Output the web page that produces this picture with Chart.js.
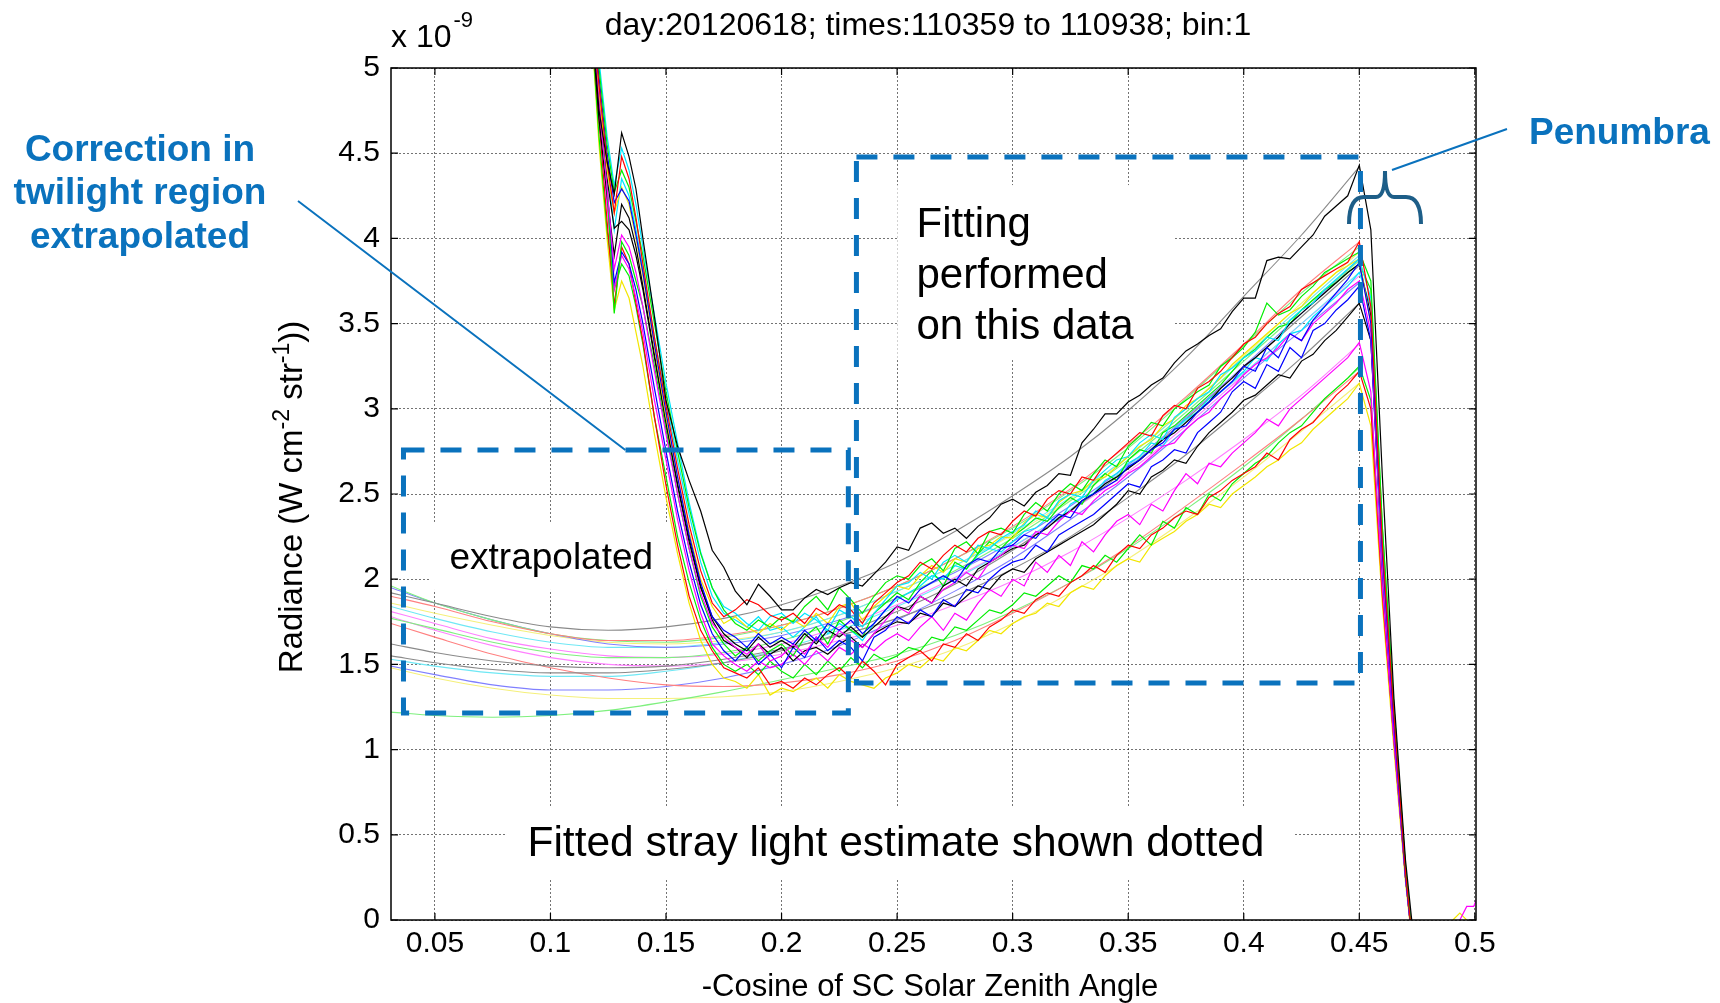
<!DOCTYPE html>
<html lang="en">
<head>
<meta charset="UTF-8">
<title>stray light fit - day 20120618</title>
<script src="https://cdn.jsdelivr.net/npm/chart.js"></script>
<style>
  body { margin: 0; background: #fff; }
  #grafico { display: block; }
</style>
</head>
<body>
<canvas id="grafico" width="1720" height="1003"></canvas>
<script>
// ---- measured radiance (units of 1e-9), sampled at xMedido ----
const xMedido = [0.116, 0.121, 0.1245, 0.1276, 0.1308, 0.134, 0.137,
  0.14, 0.145, 0.15, 0.155, 0.16, 0.165, 0.17, 0.175,
  0.18, 0.185, 0.19, 0.195, 0.2, 0.205, 0.21, 0.215, 0.22, 0.225, 0.23, 0.235, 0.24, 0.245, 0.25,
  0.255, 0.26, 0.265, 0.27, 0.275, 0.28, 0.285, 0.29, 0.295, 0.3,
  0.305, 0.31, 0.315, 0.32, 0.325, 0.33, 0.335, 0.34, 0.345, 0.35,
  0.355, 0.36, 0.365, 0.37, 0.375, 0.38, 0.385, 0.39, 0.395, 0.4,
  0.405, 0.41, 0.415, 0.42, 0.425, 0.43, 0.435, 0.44, 0.445, 0.45,
  0.455, 0.46, 0.465, 0.47, 0.475];

const black1 = [5.6, 4.75, 4.45, 4.26, 4.62, 4.48, 4.29,
  4.0, 3.54, 3.05, 2.78, 2.58, 2.4, 2.17, 2.07,
  1.93, 1.85, 1.97, 1.9, 1.82, 1.82, 1.89, 1.94, 1.91, 1.95, 1.98, 1.96, 2.03, 2.1, 2.19,
  2.17, 2.3, 2.33, 2.27, 2.3, 2.24, 2.31, 2.36, 2.44, 2.47,
  2.43, 2.51, 2.55, 2.62, 2.61, 2.8, 2.88, 2.97, 2.97, 3.04,
  3.08, 3.14, 3.18, 3.27, 3.34, 3.38, 3.43, 3.47, 3.57, 3.65,
  3.65, 3.87, 3.89, 3.88, 3.95, 4.02, 4.13, 4.19, 4.25, 4.43,
  4.05, 2.6, 1.3, 0.35, -0.3];
const black2 = [5.6, 4.8, 4.35, 4.06, 4.1, 4.05, 3.9,
  3.7, 3.3, 2.92, 2.55, 2.22, 1.95, 1.78, 1.68,
  1.62, 1.58, 1.66, 1.6, 1.64, 1.6, 1.68, 1.62, 1.7, 1.66, 1.72, 1.66, 1.72, 1.78, 1.84,
  1.82, 1.9, 1.86, 1.96, 2.0, 1.96, 2.06, 2.1, 2.14, 2.18,
  2.2, 2.26, 2.3, 2.36, 2.4, 2.46, 2.5, 2.56, 2.6, 2.65,
  2.7, 2.76, 2.82, 2.86, 2.92, 2.98, 3.04, 3.12, 3.18, 3.25,
  3.3, 3.36, 3.42, 3.5, 3.56, 3.62, 3.68, 3.74, 3.8, 3.85,
  3.55, 2.2, 1.2, 0.3, -0.4];
const black3 = [5.6, 4.7, 4.25, 3.9, 4.2, 4.12, 3.95,
  3.72, 3.32, 2.92, 2.56, 2.24, 1.96, 1.76, 1.64,
  1.6, 1.54, 1.62, 1.56, 1.6, 1.52, 1.58, 1.6, 1.56, 1.62, 1.66, 1.6, 1.68, 1.72, 1.75,
  1.74, 1.8, 1.78, 1.86, 1.84, 1.9, 1.96, 1.94, 2.02, 2.06,
  2.04, 2.12, 2.16, 2.2, 2.24, 2.28, 2.32, 2.38, 2.44, 2.52,
  2.5, 2.6, 2.64, 2.7, 2.68, 2.78, 2.86, 2.92, 2.98, 3.05,
  3.08, 3.14, 3.2, 3.18, 3.28, 3.32, 3.4, 3.46, 3.54, 3.62,
  3.4, 2.1, 1.15, 0.28, -0.4];
const red1 = [5.6, 4.9, 4.45, 4.15, 4.48, 4.35, 4.12,
  3.85, 3.42, 3.02, 2.65, 2.32, 2.05, 1.86, 1.78,
  1.82, 1.88, 1.85, 1.79, 1.76, 1.8, 1.74, 1.83, 1.79, 1.85, 1.82, 1.74, 1.86, 1.92, 1.98,
  2.02, 2.1, 2.06, 2.14, 2.2, 2.16, 2.24, 2.28, 2.26, 2.34,
  2.4, 2.37, 2.47, 2.52, 2.5, 2.6, 2.58, 2.68, 2.74, 2.8,
  2.86, 2.84, 2.96, 3.02, 3.0, 3.12, 3.16, 3.22, 3.3, 3.38,
  3.42, 3.5, 3.56, 3.6, 3.7, 3.74, 3.78, 3.82, 3.86, 3.98,
  3.6, 2.2, 1.2, 0.28, -0.4];
const red2 = [5.6, 4.7, 4.1, 3.61, 3.95, 3.85, 3.62,
  3.4, 2.95, 2.55, 2.2, 1.9, 1.7, 1.58, 1.48,
  1.45, 1.42, 1.48, 1.38, 1.4, 1.36, 1.42, 1.38, 1.44, 1.48, 1.42, 1.52, 1.46, 1.38, 1.5,
  1.54, 1.58, 1.52, 1.62, 1.6, 1.68, 1.64, 1.72, 1.76, 1.82,
  1.8, 1.88, 1.92, 1.9, 1.98, 2.02, 2.08, 2.04, 2.14, 2.2,
  2.18, 2.26, 2.3, 2.36, 2.4, 2.38, 2.48, 2.52, 2.58, 2.62,
  2.66, 2.74, 2.7, 2.82, 2.88, 2.92, 3.0, 3.08, 3.14, 3.22,
  3.0, 1.9, 1.05, 0.25, -0.4];
const green1 = [5.6, 5.0, 4.55, 4.27, 4.4, 4.3, 4.1,
  3.9, 3.5, 3.1, 2.75, 2.42, 2.15, 1.95, 1.82,
  1.74, 1.7, 1.76, 1.72, 1.78, 1.75, 1.84, 1.9, 1.82, 1.95, 1.88, 1.8, 1.9, 1.98, 2.02,
  2.0, 2.08, 2.12, 2.05, 2.18, 2.22, 2.15, 2.28, 2.3, 2.27,
  2.38, 2.45, 2.4, 2.5, 2.56, 2.52, 2.62, 2.7, 2.66, 2.78,
  2.84, 2.92, 2.9, 3.0, 3.05, 3.1, 3.14, 3.25, 3.3, 3.36,
  3.45, 3.62, 3.55, 3.58, 3.66, 3.72, 3.8, 3.84, 3.88, 3.92,
  3.75, 2.3, 1.25, 0.3, -0.4];
const green2 = [5.6, 4.8, 4.3, 3.56, 3.98, 3.9, 3.75,
  3.6, 3.25, 2.88, 2.5, 2.18, 1.9, 1.72, 1.62,
  1.55, 1.6, 1.52, 1.58, 1.62, 1.55, 1.66, 1.72, 1.62, 1.76, 1.7, 1.66, 1.8, 1.86, 1.92,
  1.88, 1.98, 2.05, 1.96, 2.1, 2.06, 2.15, 2.22, 2.18, 2.25,
  2.3, 2.36, 2.34, 2.42, 2.48, 2.44, 2.55, 2.62, 2.58, 2.7,
  2.76, 2.74, 2.86, 2.9, 2.96, 3.02, 3.08, 3.14, 3.22, 3.3,
  3.35, 3.42, 3.48, 3.5, 3.58, 3.64, 3.7, 3.74, 3.8, 3.85,
  3.7, 2.3, 1.25, 0.32, -0.4];
const green3 = [5.6, 4.6, 4.05, 3.7, 3.85, 3.78, 3.6,
  3.38, 2.95, 2.6, 2.25, 1.98, 1.76, 1.6, 1.5,
  1.46, 1.5, 1.44, 1.52, 1.46, 1.42, 1.5, 1.44, 1.52, 1.46, 1.54, 1.48, 1.56, 1.52, 1.55,
  1.6, 1.58, 1.66, 1.64, 1.72, 1.7, 1.76, 1.82, 1.8, 1.85,
  1.92, 1.9, 1.96, 2.02, 1.98, 2.08, 2.06, 2.14, 2.1, 2.18,
  2.26, 2.2, 2.34, 2.3, 2.42, 2.38, 2.5, 2.46, 2.56, 2.62,
  2.68, 2.72, 2.8, 2.86, 2.9, 2.98, 3.06, 3.12, 3.18, 3.25,
  3.05, 1.95, 1.05, 0.25, -0.4];
const blue1 = [5.6, 4.95, 4.5, 4.21, 4.29, 4.22, 4.02,
  3.8, 3.38, 2.98, 2.6, 2.26, 1.98, 1.78, 1.7,
  1.66, 1.6, 1.68, 1.62, 1.66, 1.62, 1.7, 1.64, 1.74, 1.7, 1.76, 1.68, 1.74, 1.82, 1.9,
  1.86, 1.94, 1.98, 2.02, 1.98, 2.08, 2.12, 2.1, 2.18, 2.2,
  2.26, 2.24, 2.32, 2.38, 2.36, 2.46, 2.5, 2.54, 2.58, 2.66,
  2.7, 2.76, 2.8, 2.88, 2.9, 2.98, 3.04, 3.1, 3.16, 3.25,
  3.22, 3.36, 3.3, 3.44, 3.4, 3.52, 3.6, 3.68, 3.76, 3.86,
  3.5, 2.15, 1.15, 0.25, -0.4];
const blue2 = [5.6, 4.85, 4.3, 3.74, 3.92, 3.85, 3.7,
  3.5, 3.12, 2.75, 2.4, 2.1, 1.85, 1.68, 1.58,
  1.52, 1.6, 1.5, 1.56, 1.48, 1.6, 1.54, 1.66, 1.58, 1.64, 1.6, 1.52, 1.66, 1.7, 1.78,
  1.74, 1.82, 1.78, 1.88, 1.84, 1.94, 1.92, 2.0, 2.06, 2.1,
  2.12, 2.2, 2.16, 2.26, 2.3, 2.34, 2.38, 2.44, 2.5, 2.56,
  2.54, 2.66, 2.7, 2.76, 2.74, 2.86, 2.92, 2.98, 3.1, 3.16,
  3.12, 3.26, 3.22, 3.36, 3.3, 3.46, 3.5, 3.58, 3.64, 3.72,
  3.4, 2.05, 1.1, 0.25, -0.4];
const cyan1 = [5.6, 5.05, 4.6, 4.31, 4.53, 4.4, 4.2,
  3.95, 3.55, 3.15, 2.8, 2.45, 2.16, 1.95, 1.84,
  1.8, 1.74, 1.7, 1.78, 1.8, 1.74, 1.8, 1.76, 1.7, 1.82, 1.78, 1.72, 1.8, 1.88, 1.96,
  1.98, 2.04, 2.0, 2.1, 2.14, 2.1, 2.2, 2.18, 2.24, 2.28,
  2.32, 2.4, 2.36, 2.46, 2.5, 2.48, 2.58, 2.64, 2.7, 2.72,
  2.8, 2.85, 2.82, 2.95, 3.0, 3.06, 3.1, 3.2, 3.24, 3.3,
  3.34, 3.42, 3.4, 3.52, 3.58, 3.62, 3.7, 3.76, 3.82, 3.88,
  3.65, 2.25, 1.2, 0.3, -0.4];
const cyan2 = [5.6, 4.9, 4.45, 4.05, 4.35, 4.25, 4.05,
  3.82, 3.42, 3.05, 2.7, 2.38, 2.1, 1.9, 1.8,
  1.76, 1.72, 1.78, 1.7, 1.72, 1.66, 1.72, 1.78, 1.68, 1.74, 1.7, 1.64, 1.74, 1.82, 1.88,
  1.92, 1.96, 2.02, 2.0, 2.08, 2.06, 2.14, 2.18, 2.16, 2.22,
  2.28, 2.3, 2.36, 2.34, 2.44, 2.48, 2.5, 2.58, 2.62, 2.68,
  2.72, 2.8, 2.78, 2.88, 2.94, 2.98, 3.06, 3.1, 3.16, 3.22,
  3.3, 3.28, 3.38, 3.44, 3.46, 3.54, 3.6, 3.66, 3.72, 3.8,
  3.6, 2.2, 1.2, 0.3, -0.4];
const magenta1 = [5.6, 4.8, 4.3, 3.82, 4.02, 3.95, 3.8,
  3.6, 3.22, 2.85, 2.5, 2.18, 1.92, 1.74, 1.66,
  1.6, 1.56, 1.62, 1.52, 1.55, 1.62, 1.56, 1.66, 1.6, 1.7, 1.64, 1.6, 1.68, 1.76, 1.84,
  1.8, 1.9, 1.86, 1.94, 1.98, 2.04, 2.0, 2.1, 2.14, 2.2,
  2.18, 2.28, 2.26, 2.34, 2.4, 2.38, 2.46, 2.52, 2.56, 2.62,
  2.66, 2.72, 2.78, 2.8, 2.88, 2.94, 2.98, 3.06, 3.12, 3.2,
  3.26, 3.3, 3.36, 3.44, 3.4, 3.5, 3.56, 3.62, 3.7, 3.75,
  3.45, 2.1, 1.1, 0.25, -0.4];
const magenta2 = [5.6, 4.75, 4.2, 3.7, 3.9, 3.82, 3.65,
  3.45, 3.05, 2.7, 2.35, 2.05, 1.8, 1.62, 1.55,
  1.5, 1.46, 1.52, 1.48, 1.5, 1.56, 1.5, 1.58, 1.52, 1.6, 1.56, 1.62, 1.58, 1.64, 1.68,
  1.64, 1.72, 1.78, 1.7, 1.8, 1.76, 1.86, 1.94, 1.9, 2.0,
  1.96, 2.1, 2.04, 2.14, 2.08, 2.22, 2.16, 2.26, 2.34, 2.38,
  2.32, 2.44, 2.4, 2.52, 2.62, 2.56, 2.68, 2.66, 2.74, 2.8,
  2.86, 2.94, 2.9, 3.0, 3.06, 3.12, 3.18, 3.24, 3.3, 3.39,
  3.1, 1.95, 1.05, 0.25, -0.4];
const yellow1 = [5.6, 4.85, 4.4, 4.15, 4.3, 4.2, 4.0,
  3.78, 3.36, 2.95, 2.6, 2.28, 2.0, 1.84, 1.74,
  1.78, 1.72, 1.68, 1.74, 1.7, 1.76, 1.72, 1.8, 1.74, 1.84, 1.86, 1.76, 1.84, 1.9, 1.96,
  1.94, 2.02, 2.08, 2.04, 2.12, 2.1, 2.18, 2.2, 2.25, 2.24,
  2.33, 2.38, 2.36, 2.45, 2.5, 2.52, 2.58, 2.6, 2.66, 2.72,
  2.78, 2.82, 2.9, 2.94, 3.02, 3.06, 3.12, 3.18, 3.26, 3.32,
  3.38, 3.44, 3.5, 3.56, 3.6, 3.68, 3.74, 3.8, 3.84, 3.88,
  3.5, 2.1, 1.15, 0.25, -0.4];
const yellow2 = [5.6, 4.55, 4.0, 3.58, 3.75, 3.65, 3.45,
  3.25, 2.85, 2.48, 2.15, 1.86, 1.64, 1.5, 1.42,
  1.4, 1.36, 1.44, 1.32, 1.36, 1.34, 1.38, 1.42, 1.36, 1.44, 1.4, 1.38, 1.36, 1.42, 1.45,
  1.5, 1.48, 1.54, 1.52, 1.6, 1.58, 1.64, 1.7, 1.68, 1.74,
  1.78, 1.8, 1.86, 1.84, 1.92, 1.96, 1.94, 2.02, 2.08, 2.12,
  2.1, 2.2, 2.24, 2.28, 2.34, 2.38, 2.44, 2.42, 2.5, 2.55,
  2.6, 2.66, 2.7, 2.76, 2.8, 2.88, 2.94, 3.0, 3.06, 3.15,
  2.9, 1.85, 1.0, 0.22, -0.4];

// small pieces near the right edge, past the eclipse
const xCauda = [0.4905, 0.4935, 0.4965, 0.4995, 0.503];
const magentaCauda = [-0.1, 0.0, 0.08, 0.08, 0.2];
const yellowCauda = [0.0, 0.04, 0.0, -0.1, -0.1];

// ---- fitted stray light (extrapolated to the left) ----
const xFit = [0.031, 0.05, 0.075, 0.1, 0.125, 0.15, 0.175, 0.2, 0.225, 0.25, 0.275, 0.3, 0.325, 0.35, 0.375, 0.4, 0.425, 0.45];
const fitBlack1 = [1.92, 1.86, 1.78, 1.72, 1.70, 1.72, 1.77, 1.85, 1.96, 2.10, 2.28, 2.49, 2.72, 2.99, 3.30, 3.66, 4.02, 4.42];
const fitBlack2 = [1.55, 1.51, 1.47, 1.45, 1.45, 1.47, 1.51, 1.58, 1.68, 1.81, 1.97, 2.17, 2.40, 2.65, 2.94, 3.24, 3.54, 3.84];
const fitBlack3 = [1.62, 1.57, 1.52, 1.49, 1.48, 1.49, 1.53, 1.59, 1.67, 1.77, 1.90, 2.06, 2.25, 2.48, 2.73, 3.01, 3.30, 3.62];
const fitRed1 = [1.90, 1.84, 1.75, 1.68, 1.64, 1.64, 1.67, 1.73, 1.83, 1.96, 2.12, 2.31, 2.53, 2.79, 3.07, 3.38, 3.70, 3.98];
const fitRed2 = [1.74, 1.66, 1.56, 1.48, 1.42, 1.38, 1.37, 1.39, 1.44, 1.52, 1.64, 1.80, 1.98, 2.19, 2.43, 2.68, 2.94, 3.22];
const fitGreen1 = [1.96, 1.86, 1.76, 1.68, 1.64, 1.63, 1.66, 1.73, 1.83, 1.96, 2.12, 2.30, 2.52, 2.77, 3.06, 3.37, 3.68, 3.95];
const fitGreen2 = [1.77, 1.71, 1.63, 1.57, 1.54, 1.54, 1.57, 1.64, 1.75, 1.89, 2.05, 2.24, 2.46, 2.70, 2.98, 3.28, 3.58, 3.87];
const fitGreen3 = [1.22, 1.20, 1.19, 1.20, 1.23, 1.28, 1.34, 1.41, 1.48, 1.56, 1.67, 1.81, 1.98, 2.18, 2.41, 2.66, 2.94, 3.24];
const fitBlue1 = [1.95, 1.86, 1.76, 1.68, 1.62, 1.60, 1.62, 1.67, 1.76, 1.89, 2.04, 2.22, 2.43, 2.67, 2.95, 3.25, 3.56, 3.88];
const fitBlue2 = [1.49, 1.44, 1.38, 1.35, 1.35, 1.37, 1.42, 1.50, 1.61, 1.76, 1.93, 2.12, 2.35, 2.60, 2.88, 3.18, 3.46, 3.74];
const fitCyan1 = [1.84, 1.77, 1.69, 1.63, 1.60, 1.60, 1.63, 1.69, 1.79, 1.93, 2.08, 2.27, 2.48, 2.72, 3.00, 3.30, 3.60, 3.90];
const fitCyan2 = [1.53, 1.49, 1.45, 1.43, 1.43, 1.46, 1.51, 1.59, 1.70, 1.84, 2.00, 2.19, 2.41, 2.66, 2.93, 3.21, 3.50, 3.80];
const fitMagenta1 = [1.81, 1.74, 1.65, 1.59, 1.55, 1.54, 1.56, 1.62, 1.72, 1.85, 2.01, 2.19, 2.40, 2.63, 2.90, 3.20, 3.50, 3.78];
const fitMagenta2 = [1.78, 1.70, 1.61, 1.54, 1.50, 1.49, 1.51, 1.56, 1.64, 1.73, 1.85, 1.99, 2.16, 2.36, 2.58, 2.82, 3.08, 3.38];
const fitYellow1 = [1.86, 1.80, 1.73, 1.67, 1.63, 1.62, 1.64, 1.69, 1.79, 1.93, 2.08, 2.26, 2.47, 2.72, 3.00, 3.31, 3.62, 3.92];
const fitYellow2 = [1.48, 1.42, 1.36, 1.32, 1.30, 1.30, 1.31, 1.34, 1.40, 1.48, 1.59, 1.74, 1.92, 2.12, 2.35, 2.60, 2.87, 3.15];

// ---- axes ----
const xTicks = [0.05, 0.1, 0.15, 0.2, 0.25, 0.3, 0.35, 0.4, 0.45, 0.5];
const xTickLabels = ['0.05', '0.1', '0.15', '0.2', '0.25', '0.3', '0.35', '0.4', '0.45', '0.5'];
const yTicks = [0, 0.5, 1, 1.5, 2, 2.5, 3, 3.5, 4, 4.5, 5];
const yTickLabels = ['0', '0.5', '1', '1.5', '2', '2.5', '3', '3.5', '4', '4.5', '5'];

const FONTE = '"Liberation Sans", Arial, Helvetica, sans-serif';
const AZUL = '#0a72bd';

// series + colour (MATLAB default line colours, fits are lighter)
const medidas = [
  [black1, '#000000'], [red1, '#ff0000'], [green1, '#00ee00'], [blue1, '#0000ff'],
  [cyan1, '#00e5ff'], [magenta1, '#ff00ff'], [yellow1, '#f2e600'], [black2, '#000000'],
  [green2, '#00ee00'], [blue2, '#0000ff'], [cyan2, '#00e5ff'], [black3, '#000000'],
  [magenta2, '#ff00ff'], [red2, '#ff0000'], [green3, '#00ee00'], [yellow2, '#f2e600']
];
const ajustes = [
  [fitBlack1, '#8a8a8a'], [fitBlack2, '#8a8a8a'], [fitBlack3, '#8a8a8a'],
  [fitRed1, '#ff8080'], [fitRed2, '#ff8080'], [fitGreen1, '#7ef07e'], [fitGreen2, '#7ef07e'],
  [fitGreen3, '#7ef07e'], [fitBlue1, '#8080ff'], [fitBlue2, '#8080ff'], [fitCyan1, '#6fe8f5'],
  [fitCyan2, '#6fe8f5'], [fitMagenta1, '#ff80ff'], [fitMagenta2, '#ff80ff'],
  [fitYellow1, '#f5f07a'], [fitYellow2, '#f5f07a']
];

function pontos(xs, ys) {
  return ys.map((y, i) => ({ x: xs[i], y: y }));
}

var datasets = [];
medidas.forEach(m => {
  datasets.push({ data: pontos(xMedido, m[0]), borderColor: m[1], borderWidth: 1.2, pointRadius: 0, tension: 0 });
});
ajustes.forEach(f => {
  datasets.push({ data: pontos(xFit, f[0]), borderColor: f[1], borderWidth: 1.1, pointRadius: 0, cubicInterpolationMode: 'monotone' });
});
datasets.push({ data: pontos(xCauda, magentaCauda), borderColor: '#ff00ff', borderWidth: 1.2, pointRadius: 0 });
datasets.push({ data: pontos(xCauda, yellowCauda), borderColor: '#f2e600', borderWidth: 1.2, pointRadius: 0 });

// annotation boxes, in data units
const caixasBrancas = [
  [0.048, 0.1532, 2.336, 1.937],   // extrapolated
  [0.2501, 0.3696, 4.313, 3.286],  // fitting performed
  [0.0805, 0.4219, 0.669, 0.246]   // fitted stray light
];
const retangulos = [
  [0.0364, 0.2289, 2.758, 1.215],
  [0.2324, 0.4505, 4.478, 1.391]
];

// draws text with superscripts, pieces = [text, isSup]
function textoRico(ctx, pedacos, tam, tamSup, subida) {
  var larg = 0;
  pedacos.forEach(p => {
    ctx.font = (p[1] ? tamSup : tam) + 'px ' + FONTE;
    larg += ctx.measureText(p[0]).width;
  });
  var x = -larg / 2;
  pedacos.forEach(p => {
    ctx.font = (p[1] ? tamSup : tam) + 'px ' + FONTE;
    ctx.fillText(p[0], x, p[1] ? -subida : 0);
    x += ctx.measureText(p[0]).width;
  });
}

const extras = {
  id: 'extras',
  beforeDatasetsDraw(chart) {
    const c = chart.ctx, sx = chart.scales.x, sy = chart.scales.y;
    c.save();
    c.fillStyle = '#ffffff';
    caixasBrancas.forEach(b => {
      const x0 = sx.getPixelForValue(b[0]), x1 = sx.getPixelForValue(b[1]);
      const y0 = sy.getPixelForValue(b[2]), y1 = sy.getPixelForValue(b[3]);
      c.fillRect(x0, y0, x1 - x0, y1 - y0);
    });
    c.restore();
  },
  afterDatasetsDraw(chart) {
    const c = chart.ctx, a = chart.chartArea, sx = chart.scales.x, sy = chart.scales.y;
    c.save();
    // box + inward ticks like matlab
    c.strokeStyle = '#000';
    c.lineWidth = 1.5;
    c.strokeRect(a.left, a.top, a.right - a.left, a.bottom - a.top);
    c.lineWidth = 1.2;
    c.beginPath();
    xTicks.forEach(v => {
      const px = sx.getPixelForValue(v);
      c.moveTo(px, a.bottom); c.lineTo(px, a.bottom - 7);
      c.moveTo(px, a.top); c.lineTo(px, a.top + 7);
    });
    yTicks.forEach(v => {
      const py = sy.getPixelForValue(v);
      c.moveTo(a.left, py); c.lineTo(a.left + 7, py);
      c.moveTo(a.right, py); c.lineTo(a.right - 7, py);
    });
    c.stroke();

    // dashed blue boxes
    c.strokeStyle = AZUL;
    c.lineWidth = 5;
    c.setLineDash([21, 16]);
    retangulos.forEach(r => {
      const x0 = sx.getPixelForValue(r[0]), x1 = sx.getPixelForValue(r[1]);
      const y0 = sy.getPixelForValue(r[2]), y1 = sy.getPixelForValue(r[3]);
      c.strokeRect(x0, y0, x1 - x0, y1 - y0);
    });
    c.setLineDash([]);

    // leader lines
    c.lineWidth = 2;
    c.beginPath();
    c.moveTo(298, 201);
    c.lineTo(sx.getPixelForValue(0.1324), sy.getPixelForValue(2.758));
    c.moveTo(1507, 129);
    c.lineTo(1392, 170);
    c.stroke();

    // penumbra brace
    c.strokeStyle = '#1d5e88';
    c.lineWidth = 4;
    c.beginPath();
    c.moveTo(1349, 224);
    c.quadraticCurveTo(1349, 197, 1364, 197);
    c.lineTo(1376, 197);
    c.quadraticCurveTo(1385, 197, 1385, 171);
    c.quadraticCurveTo(1385, 197, 1394, 197);
    c.lineTo(1406, 197);
    c.quadraticCurveTo(1421, 197, 1421, 224);
    c.stroke();

    // text inside the plot
    c.fillStyle = '#000';
    c.textAlign = 'left';
    c.textBaseline = 'alphabetic';
    c.font = '37px ' + FONTE;
    c.fillText('extrapolated', sx.getPixelForValue(0.0563), sy.getPixelForValue(2.06));
    c.font = '42px ' + FONTE;
    const fx = sx.getPixelForValue(0.2584);
    c.fillText('Fitting', fx, 237);
    c.fillText('performed', fx, 288);
    c.fillText('on this data', fx, 339);
    c.textAlign = 'center';
    c.font = '42.5px ' + FONTE;
    c.fillText('Fitted stray light estimate shown dotted', sx.getPixelForValue(0.2495), 856);
    c.restore();
  },
  afterDraw(chart) {
    const c = chart.ctx;
    c.save();
    c.fillStyle = '#000';
    c.textBaseline = 'alphabetic';
    // title
    c.textAlign = 'center';
    c.font = '32px ' + FONTE;
    c.fillText('day:20120618; times:110359 to 110938; bin:1', 928, 35);
    // x label
    c.font = '31px ' + FONTE;
    c.fillText('-Cosine of SC Solar Zenith Angle', 930, 996);
    // exponent
    c.textAlign = 'left';
    c.font = '32px ' + FONTE;
    c.fillText('x 10', 391, 47);
    const w10 = c.measureText('x 10').width;
    c.font = '22px ' + FONTE;
    c.fillText('-9', 391 + w10 + 2, 27);
    // y label, rotated
    c.translate(302, 497);
    c.rotate(-Math.PI / 2);
    textoRico(c, [['Radiance (W cm', false], ['-2', true], [' str', false], ['-1', true], ['))', false]], 33, 23, 13);
    c.restore();

    // blue callouts
    c.save();
    c.fillStyle = AZUL;
    c.font = 'bold 37px ' + FONTE;
    c.textAlign = 'center';
    c.fillText('Correction in', 140, 161);
    c.fillText('twilight region', 140, 204);
    c.fillText('extrapolated', 140, 248);
    c.textAlign = 'left';
    c.fillText('Penumbra', 1529, 144);
    c.restore();
  }
};

const grafico = new Chart(document.getElementById('grafico'), {
  type: 'line',
  data: { datasets: datasets },
  plugins: [extras],
  options: {
    responsive: false,
    animation: false,
    devicePixelRatio: 1,
    layout: { padding: { top: 68, right: 244, bottom: 0, left: 0 } },
    plugins: { legend: { display: false }, tooltip: { enabled: false }, title: { display: false } },
    scales: {
      x: {
        type: 'linear',
        min: 0.031,
        max: 0.5005,
        afterBuildTicks: axis => { axis.ticks = xTicks.map(v => ({ value: v })); },
        afterFit: axis => { axis.height = 83; },
        ticks: {
          autoSkip: false, maxRotation: 0, padding: 6, color: '#000',
          font: { family: FONTE, size: 30 },
          callback: (v, i) => xTickLabels[i]
        },
        grid: { color: 'rgba(0,0,0,0.55)', lineWidth: 1, drawTicks: false },
        border: { display: false, dash: [2, 2] }
      },
      y: {
        type: 'linear',
        min: 0,
        max: 5,
        afterBuildTicks: axis => { axis.ticks = yTicks.map(v => ({ value: v })); },
        afterFit: axis => { axis.width = 391; },
        ticks: {
          autoSkip: false, padding: 11, color: '#000',
          font: { family: FONTE, size: 30 },
          callback: (v, i) => yTickLabels[i]
        },
        grid: { color: 'rgba(0,0,0,0.55)', lineWidth: 1, drawTicks: false },
        border: { display: false, dash: [2, 2] }
      }
    }
  }
});
</script>
</body>
</html>
